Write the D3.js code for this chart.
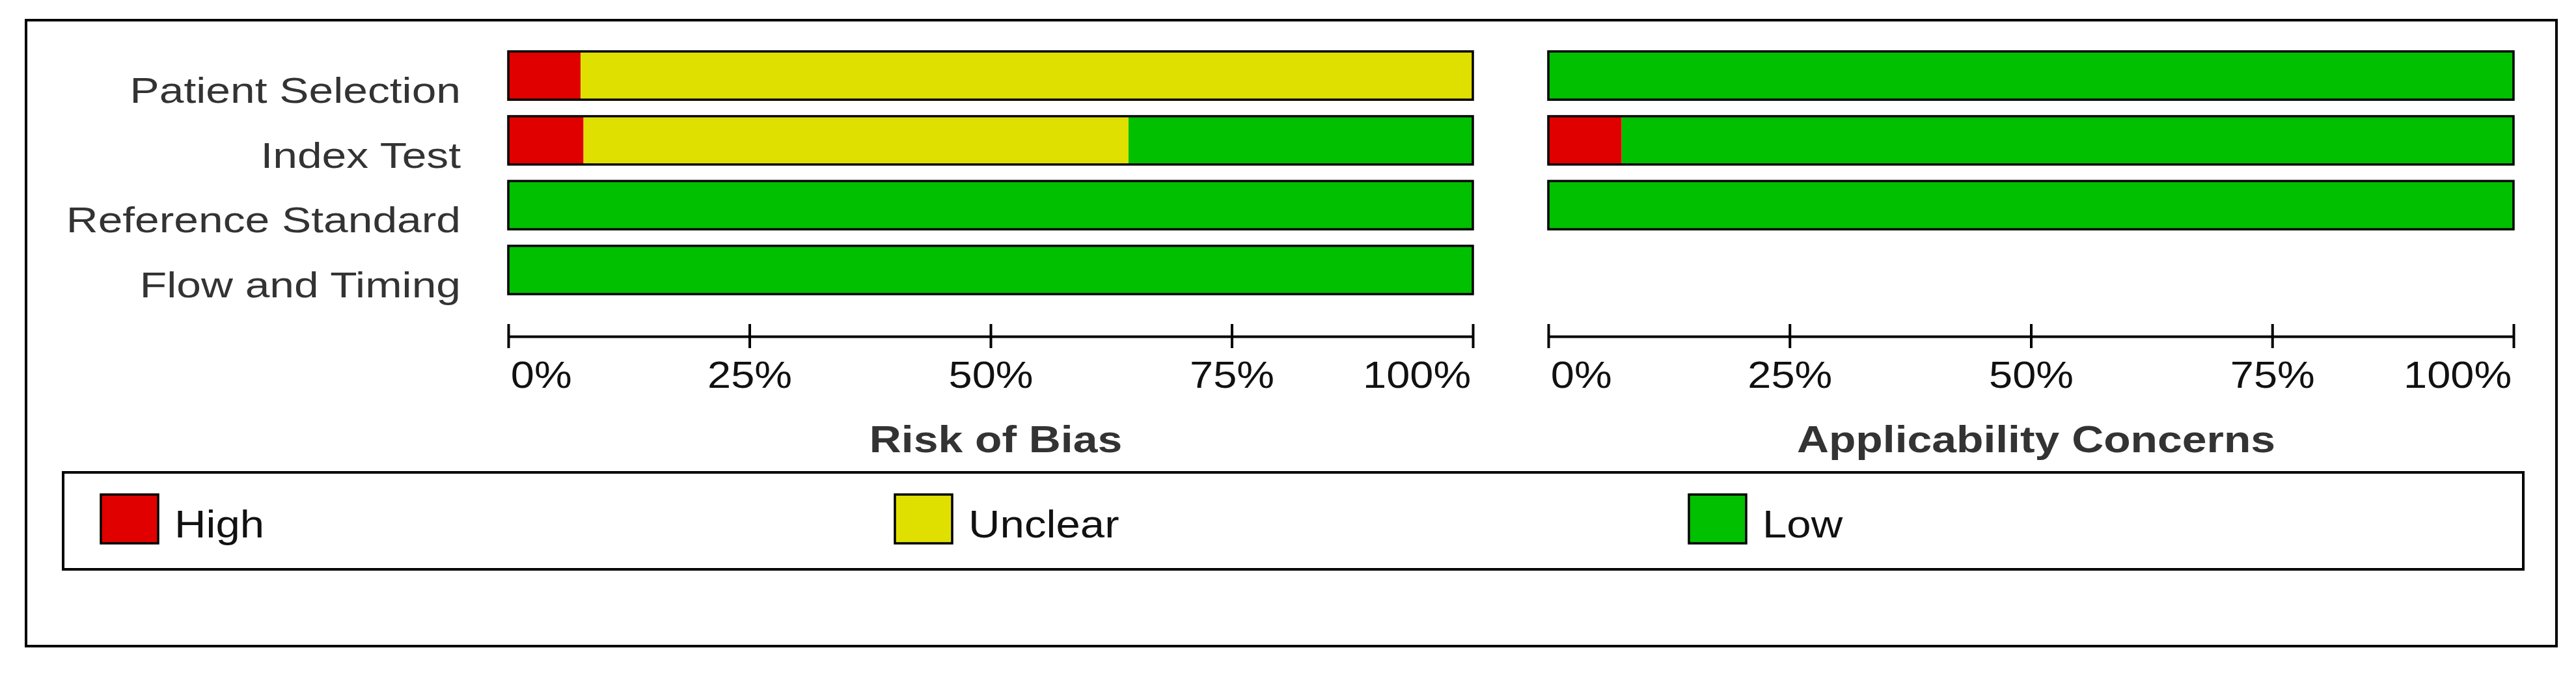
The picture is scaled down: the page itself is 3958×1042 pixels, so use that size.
<!DOCTYPE html>
<html>
<head>
<meta charset="utf-8">
<script src="https://d3js.org/d3.v7.min.js"></script>
<style>
    body { margin: 0; background: #ffffff; }
    svg { display: block; }
</style>
</head>
<body>
<div id="chart"></div>
<script>
// categories and values (percent of studies)
var categories = ["Patient Selection", "Index Test", "Reference Standard", "Flow and Timing"];
var applicCategories = ["Patient Selection", "Index Test", "Reference Standard"];
var judgements = ["High", "Unclear", "Low"];

var riskHigh = [7.5, 7.8, 0, 0];
var riskUnclear = [92.5, 56.5, 0, 0];
var riskLow = [0, 35.7, 100, 100];

var applicHigh = [0, 7.6, 0];
var applicUnclear = [0, 0, 0];
var applicLow = [100, 92.4, 100];

var tickValues = [0, 25, 50, 75, 100];
var panelTitles = ["Risk of Bias", "Applicability Concerns"];

var drawSummary = (function() {

    var colours = d3.scaleOrdinal()
        .domain(judgements)
        .range(["#e00000", "#e0e000", "#00c000"]);

// stretched text (the figure is wider than it is tall)
    function stretchText(group, x, y, str, k) {
        return group.append("text")
            .attr("transform", "translate(" + x + "," + y + ") scale(" + k + ",1)")
            .text(str);
    }

// rows of values for d3.stack
    function toRows(cats, high, unclear, low) {
        return cats.map(function(c, i) {
            return { cat: c, High: high[i], Unclear: unclear[i], Low: low[i] };
        });
    }

// one panel: stacked bars plus axis and title
    function drawPanel(svg, rows, x, y, title) {
        var panel = svg.append("g");

        var series = d3.stack().keys(judgements)(rows);

        // coloured segments
        panel.selectAll("g.series")
            .data(series)
            .join("g")
            .attr("class", "series")
            .style("fill", function(d) { return colours(d.key); })
            .selectAll("rect")
            .data(function(d) { return d; })
            .join("rect")
            .attr("x", function(d) { return x(d[0]); })
            .attr("y", function(d) { return y(d.data.cat); })
            .attr("width", function(d) { return x(d[1]) - x(d[0]); })
            .attr("height", y.bandwidth());

        // black outline round each bar
        panel.selectAll("rect.outline")
            .data(rows)
            .join("rect")
            .attr("class", "outline")
            .attr("x", x(0))
            .attr("y", function(d) { return y(d.cat); })
            .attr("width", x(100) - x(0))
            .attr("height", y.bandwidth())
            .style("fill", "none")
            .style("stroke", "#000")
            .style("stroke-width", "3.5px");

        // axis with ticks crossing the line
        var axisY = 517;
        var axis = panel.append("g")
            .attr("transform", "translate(0," + axisY + ")")
            .call(d3.axisBottom(x)
                .tickValues(tickValues)
                .tickSizeOuter(0)
                .tickFormat(function(d) { return d + "%"; }));

        axis.select(".domain")
            .style("stroke", "#000")
            .style("stroke-width", "4px");
        axis.selectAll(".tick line")
            .attr("y1", -19)
            .attr("y2", 18)
            .style("stroke", "#000")
            .style("stroke-width", "4px");
        axis.selectAll(".tick text")
            .attr("y", 0)
            .attr("dy", 0)
            .attr("transform", "translate(0,79) scale(1.12,1)")
            .attr("text-anchor", function(d, i) {
                return i === 0 ? "start" : (i === tickValues.length - 1 ? "end" : "middle");
            })
            .attr("dx", function(d, i) {
                return i === 0 ? 3 : (i === tickValues.length - 1 ? -3 : 0);
            })
            .style("font-family", "'Liberation Sans', Arial, sans-serif")
            .style("font-size", "58px")
            .style("fill", "#111");

        // panel title
        stretchText(panel, (x(0) + x(100)) / 2 + 8, 695, title, 1.17)
            .attr("text-anchor", "middle")
            .style("font-family", "'Liberation Sans', Arial, sans-serif")
            .style("font-weight", "bold")
            .style("font-size", "58px")
            .style("fill", "#333");
    }

// category labels at the left
    function drawLabels(svg, y) {
        var labels = svg.append("g");
        categories.forEach(function(c) {
            stretchText(labels, 708, y(c) + y.bandwidth() / 2 + 42, c, 1.21)
                .attr("text-anchor", "end")
                .style("font-family", "'Liberation Sans', Arial, sans-serif")
                .style("font-size", "56px")
                .style("fill", "#333");
        });
    }

// legend box below the panels
    function drawLegend(svg) {
        var legend = svg.append("g");

        legend.append("rect")
            .attr("x", 97)
            .attr("y", 726)
            .attr("width", 3780)
            .attr("height", 149)
            .style("fill", "none")
            .style("stroke", "#000")
            .style("stroke-width", "4px");

        var item = legend.selectAll("g.item")
            .data(judgements)
            .join("g")
            .attr("class", "item")
            .attr("transform", function(d, i) { return "translate(" + (155 + i * 1220) + ",760)"; });

        item.append("rect")
            .attr("width", 88)
            .attr("height", 75)
            .style("fill", function(d) { return colours(d); })
            .style("stroke", "#000")
            .style("stroke-width", "3.5px");

        item.append("text")
            .attr("transform", "translate(113,66) scale(1.12,1)")
            .style("font-family", "'Liberation Sans', Arial, sans-serif")
            .style("font-size", "60px")
            .style("fill", "#111")
            .text(function(d) { return d; });
    }

    return {
        render: function(placement, options) {
            d3.select(placement).html("");

            var svg = d3.select(placement).append("svg")
                .attr("width", options.width)
                .attr("height", options.height);

            svg.append("rect")
                .attr("width", options.width)
                .attr("height", options.height)
                .style("fill", "#ffffff");

            // outer frame
            svg.append("rect")
                .attr("x", 40)
                .attr("y", 31)
                .attr("width", 3888)
                .attr("height", 962)
                .style("fill", "none")
                .style("stroke", "#000")
                .style("stroke-width", "4px");

            var y = d3.scaleBand()
                .domain(categories)
                .range([79, 452])
                .paddingInner(0.255)
                .paddingOuter(0);

            var xRisk = d3.scaleLinear().domain([0, 100]).range([781, 2263]);
            var xApplic = d3.scaleLinear().domain([0, 100]).range([2379, 3862]);

            drawLabels(svg, y);
            drawPanel(svg, toRows(categories, riskHigh, riskUnclear, riskLow), xRisk, y, panelTitles[0]);
            drawPanel(svg, toRows(applicCategories, applicHigh, applicUnclear, applicLow), xApplic, y, panelTitles[1]);
            drawLegend(svg);
        }
    };
})();

drawSummary.render("#chart", { width: 3958, height: 1042 });
</script>
</body>
</html>
